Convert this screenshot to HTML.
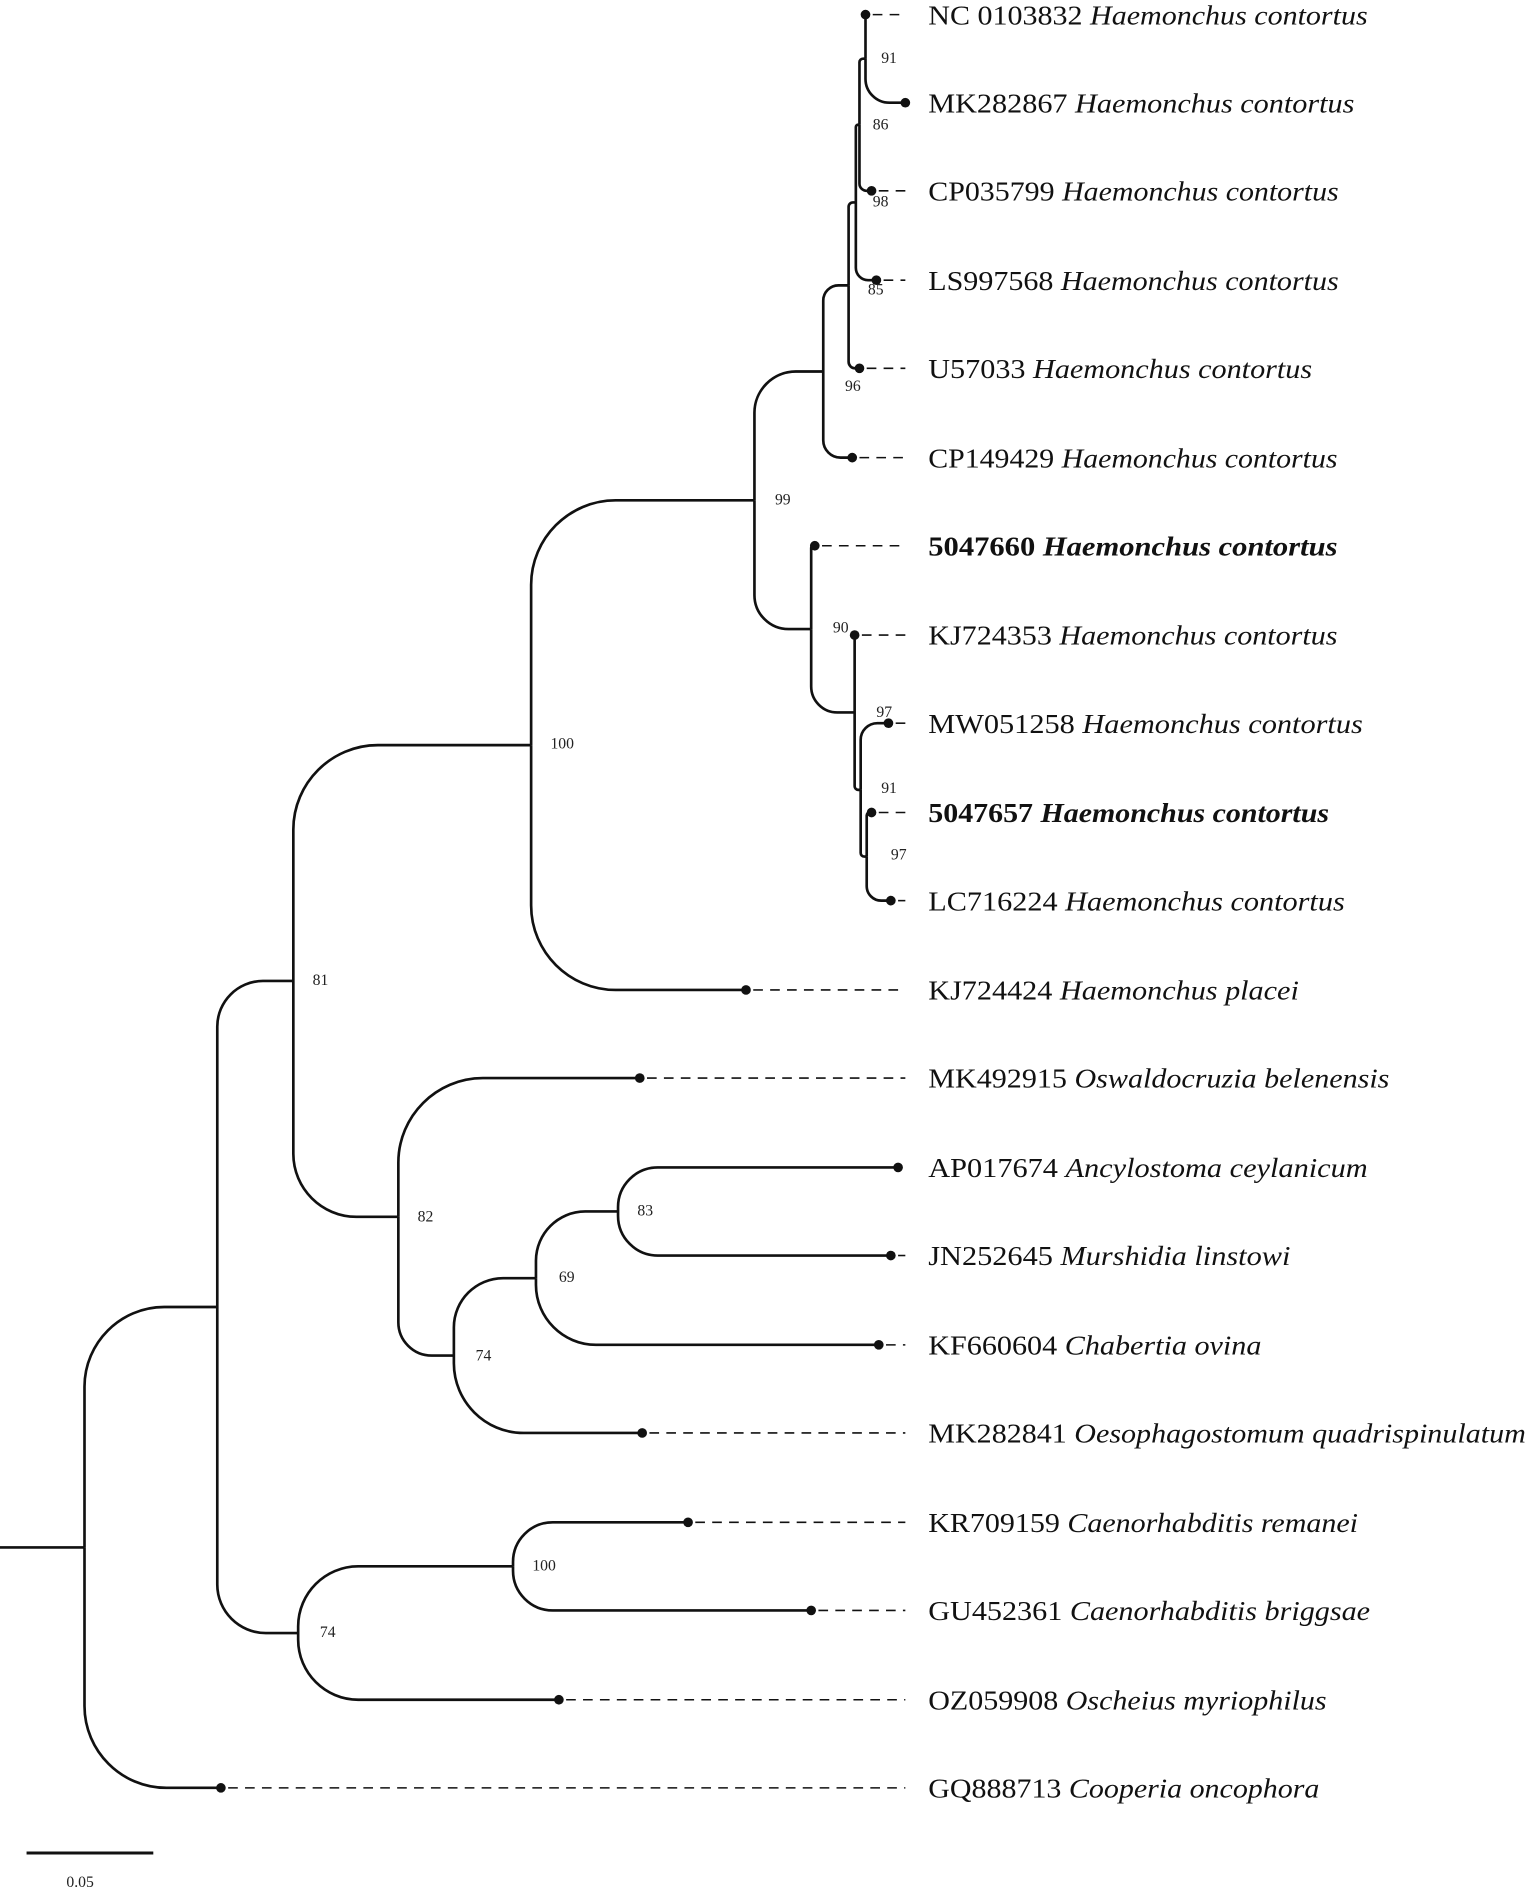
<!DOCTYPE html>
<html><head><meta charset="utf-8"><style>
html,body{margin:0;padding:0;background:#fff}
svg{display:block}
.t{font-family:"Liberation Serif",serif;font-size:23px;fill:#111}
.b{font-family:"Liberation Serif",serif;font-size:13px;fill:#222}
</style></head><body>
<svg id="s" width="1527" height="1893" viewBox="0 0 1265 1568" xmlns="http://www.w3.org/2000/svg">
<g id="tree" fill="none" stroke="#111" stroke-width="2.2"></g>
<g class="t">
<text x="769" y="20" textLength="364" lengthAdjust="spacingAndGlyphs">NC 0103832 <tspan font-style="italic">Haemonchus contortus</tspan></text>
<text x="769" y="93" textLength="353" lengthAdjust="spacingAndGlyphs">MK282867 <tspan font-style="italic">Haemonchus contortus</tspan></text>
<text x="769" y="166" textLength="340" lengthAdjust="spacingAndGlyphs">CP035799 <tspan font-style="italic">Haemonchus contortus</tspan></text>
<text x="769" y="240" textLength="340" lengthAdjust="spacingAndGlyphs">LS997568 <tspan font-style="italic">Haemonchus contortus</tspan></text>
<text x="769" y="313" textLength="318" lengthAdjust="spacingAndGlyphs">U57033 <tspan font-style="italic">Haemonchus contortus</tspan></text>
<text x="769" y="387" textLength="339" lengthAdjust="spacingAndGlyphs">CP149429 <tspan font-style="italic">Haemonchus contortus</tspan></text>
<text x="769" y="460" textLength="339" lengthAdjust="spacingAndGlyphs" font-weight="bold">5047660  <tspan font-style="italic">Haemonchus contortus</tspan></text>
<text x="769" y="534" textLength="339" lengthAdjust="spacingAndGlyphs">KJ724353 <tspan font-style="italic">Haemonchus contortus</tspan></text>
<text x="769" y="607" textLength="360" lengthAdjust="spacingAndGlyphs">MW051258 <tspan font-style="italic">Haemonchus contortus</tspan></text>
<text x="769" y="681" textLength="332" lengthAdjust="spacingAndGlyphs" font-weight="bold">5047657 <tspan font-style="italic">Haemonchus contortus</tspan></text>
<text x="769" y="754" textLength="345" lengthAdjust="spacingAndGlyphs">LC716224 <tspan font-style="italic">Haemonchus contortus</tspan></text>
<text x="769" y="828" textLength="307" lengthAdjust="spacingAndGlyphs">KJ724424 <tspan font-style="italic">Haemonchus placei</tspan></text>
<text x="769" y="901" textLength="382" lengthAdjust="spacingAndGlyphs">MK492915 <tspan font-style="italic">Oswaldocruzia belenensis</tspan></text>
<text x="769" y="975" textLength="364" lengthAdjust="spacingAndGlyphs">AP017674 <tspan font-style="italic">Ancylostoma ceylanicum</tspan></text>
<text x="769" y="1048" textLength="300" lengthAdjust="spacingAndGlyphs">JN252645 <tspan font-style="italic">Murshidia linstowi</tspan></text>
<text x="769" y="1122" textLength="276" lengthAdjust="spacingAndGlyphs">KF660604 <tspan font-style="italic">Chabertia ovina</tspan></text>
<text x="769" y="1195" textLength="495" lengthAdjust="spacingAndGlyphs">MK282841 <tspan font-style="italic">Oesophagostomum quadrispinulatum</tspan></text>
<text x="769" y="1269" textLength="356" lengthAdjust="spacingAndGlyphs">KR709159 <tspan font-style="italic">Caenorhabditis remanei</tspan></text>
<text x="769" y="1342" textLength="366" lengthAdjust="spacingAndGlyphs">GU452361 <tspan font-style="italic">Caenorhabditis briggsae</tspan></text>
<text x="769" y="1416" textLength="330" lengthAdjust="spacingAndGlyphs">OZ059908 <tspan font-style="italic">Oscheius myriophilus</tspan></text>
<text x="769" y="1489" textLength="324" lengthAdjust="spacingAndGlyphs">GQ888713 <tspan font-style="italic">Cooperia oncophora</tspan></text>
</g>
<g class="b">
<text x="730" y="52">91</text><text x="723" y="107">86</text><text x="723" y="171">98</text>
<text x="719" y="244">85</text><text x="700" y="324">96</text><text x="642" y="418">99</text>
<text x="690" y="524">90</text><text x="726" y="594">97</text><text x="730" y="657">91</text>
<text x="738" y="712">97</text><text x="456" y="620">100</text><text x="259" y="816">81</text>
<text x="346" y="1012">82</text><text x="463" y="1062">69</text><text x="528" y="1007">83</text>
<text x="394" y="1127">74</text><text x="441" y="1301">100</text><text x="265" y="1356">74</text>
<text x="55" y="1563">0.05</text>
</g>
<line x1="22" y1="1535" x2="127" y2="1535" stroke="#111" stroke-width="2.5"/>
</svg>
<script>
function T(x,y){return {x:x,y:y,tip:true};}
function N(x,k){return {x:x,k:k};}
var tree=N(70,[
 N(180,[
  N(243,[
   N(440,[
    N(625,[
     N(682,[
      N(703,[
       N(709,[
        N(712,[
         N(717,[T(717,12),T(750,85)]),
         T(722,158)]),
        T(726,232)]),
       T(712,305)]),
      T(706,379)]),
     N(672,[T(675,452),
      N(708,[T(708,526),
       N(713,[T(736,599),
        N(718,[T(722,673),T(738,746)])])])])]),
    T(618,820)]),
   N(330,[T(530,893),
    N(376,[
     N(444,[N(512,[T(744,967),T(738,1040)]),T(728,1114)]),
     T(532,1187)])])]),
  N(247,[N(425,[T(570,1261),T(672,1334)]),T(463,1408)])]),
 T(183,1481)]);
var g=document.getElementById('tree'),out='';
function lay(n){if(n.tip)return n.y;var a=n.k.map(lay);n.y=(a[0]+a[a.length-1])/2;return n.y;}
lay(tree);
function draw(n){
 if(n.tip){
  out+='<circle cx="'+n.x+'" cy="'+n.y+'" r="4" fill="#111" stroke="none"/>';
  if(n.x<742)out+='<line x1="'+(n.x+6)+'" y1="'+n.y+'" x2="750" y2="'+n.y+'" stroke-dasharray="8 6" stroke-width="1.3"/>';
  return;}
 n.k.forEach(function(c){
  var dy=c.y-n.y,dx=c.x-n.x,s=dy<0?-1:1;
  var r=Math.min(70,Math.abs(dy)*0.9,Math.max(dx*0.6,0));
  var y0=c.y-s*r;
  var d='M'+n.x+' '+n.y+' L'+n.x+' '+y0+' C'+n.x+' '+(y0+s*r*0.55)+' '+(n.x+r*0.45)+' '+c.y+' '+(n.x+r)+' '+c.y+' L'+c.x+' '+c.y;
  out+='<path d="'+d+'"/>';
  draw(c);});
}
out+='<line x1="0" y1="'+tree.y+'" x2="70" y2="'+tree.y+'"/>';
draw(tree);
g.innerHTML=out;
</script>
</body></html>
